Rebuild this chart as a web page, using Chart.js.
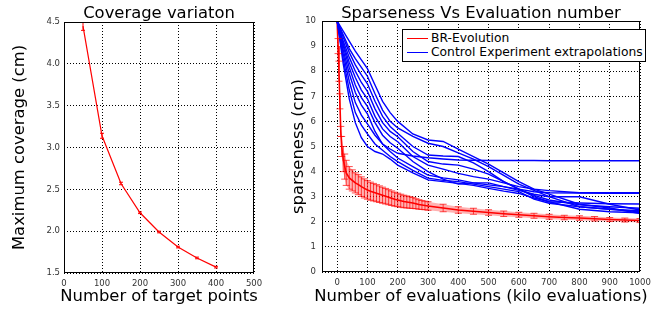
<!DOCTYPE html>
<html>
<head>
<meta charset="utf-8">
<script src="https://cdn.jsdelivr.net/npm/chart.js@4.4.1/dist/chart.umd.min.js"></script>
<style>
  html, body { margin: 0; padding: 0; background: #fff; }
  #wrap { position: relative; width: 663px; height: 310px; overflow: hidden; }
  canvas { position: absolute; top: 0; }
  #left { left: 0; }
  #right { left: 275px; }
  #legend {
    position: absolute; left: 402px; top: 29px; width: 242px; height: 31px;
    border: 1px solid #000; background: #fff;
    font: 12.3px 'DejaVu Sans', sans-serif; color: #000;
  }
  #legend .row { position: absolute; left: 4px; height: 14px; line-height: 14px; white-space: nowrap; }
  #legend .sw { display: inline-block; width: 21px; height: 1.5px; vertical-align: middle; margin-right: 3px; }
</style>
</head>
<body>
<div id="wrap">
  <canvas id="left" width="275" height="310"></canvas>
  <canvas id="right" width="388" height="310"></canvas>
  <div id="legend">
    <div class="row" style="top:1px"><span class="sw" style="background:#ff0000"></span>BR-Evolution</div>
    <div class="row" style="top:15px"><span class="sw" style="background:#0000ff"></span>Control Experiment extrapolations</div>
  </div>
</div>
<script>
// --- left: coverage ---
const targetPoints = [50, 100, 150, 200, 250, 300, 350, 400];
const maxCoverage = [4.45, 3.14, 2.57, 2.22, 1.99, 1.81, 1.68, 1.57];
const coverageErr = [0.05, 0.03, 0.015, 0.01, 0.01, 0.01, 0.01, 0.01];

// --- right: sparseness ---
const evalX = [0, 3, 6, 9, 12, 15, 20, 25, 30,
  40, 50, 60, 70, 80, 90, 100, 110, 120, 130, 140, 150, 160, 170, 180, 190, 200,
  210, 220, 230, 240, 250, 260, 270, 280, 290, 300,
  350, 400, 450, 500, 550, 600, 650, 700, 750, 800, 850, 900, 950, 1000];
const brMean = [10, 9.0, 8.0, 6.8, 5.6, 5.0, 4.5, 4.2, 3.95,
  3.75, 3.65, 3.55, 3.48, 3.4, 3.33, 3.27, 3.22, 3.18, 3.14, 3.1, 3.06, 3.02, 2.98, 2.94, 2.9, 2.87,
  2.84, 2.81, 2.79, 2.77, 2.75, 2.72, 2.69, 2.67, 2.65, 2.63,
  2.55, 2.47, 2.42, 2.37, 2.32, 2.28, 2.24, 2.2, 2.17, 2.15, 2.12, 2.09, 2.07, 2.05];
const brErr = [0, 0.3, 0.4, 0.3, 0.2, 0.4, 0.5, 0.5, 0.5,
  0.45, 0.42, 0.4, 0.4, 0.39, 0.38, 0.37, 0.36, 0.35, 0.34, 0.33, 0.32, 0.31, 0.3, 0.29, 0.28, 0.27,
  0.26, 0.25, 0.24, 0.23, 0.22, 0.2, 0.19, 0.18, 0.17, 0.17,
  0.15, 0.13, 0.12, 0.11, 0.11, 0.1, 0.1, 0.1, 0.09, 0.09, 0.09, 0.08, 0.08, 0.08];

const ctrlX = [0, 20, 40, 60, 80, 100, 125, 150, 175, 200, 250, 300, 350, 400, 450, 500, 550, 600, 650, 700, 800, 900, 1000];
const ctrl1 = [10, 8.3, 6.9, 5.95, 5.35, 5.0, 4.8, 4.7, 4.5, 4.26, 3.95, 3.67, 3.6, 3.53, 3.45, 3.33, 3.22, 3.13, 2.95, 2.8, 2.5, 2.4, 2.36];
const ctrl2 = [10, 8.5, 7.25, 6.35, 5.85, 5.5, 5.1, 4.85, 4.6, 4.4, 4.05, 3.74, 3.65, 3.6, 3.5, 3.4, 3.3, 3.2, 2.9, 2.74, 2.6, 2.5, 2.4];
const ctrl3 = [10, 8.7, 7.6, 6.75, 6.25, 5.9, 5.45, 5.1, 4.9, 4.73, 4.62, 4.55, 4.5, 4.46, 4.45, 4.44, 4.44, 4.44, 4.44, 4.43, 4.43, 4.43, 4.43];
const ctrl4 = [10, 8.85, 7.9, 7.15, 6.65, 6.3, 5.6, 5.1, 4.8, 4.54, 4.2, 3.86, 3.75, 3.67, 3.55, 3.47, 3.4, 3.3, 3.05, 2.87, 2.68, 2.6, 2.54];
const ctrl5 = [10, 9.0, 8.15, 7.45, 6.95, 6.6, 5.95, 5.45, 5.15, 4.93, 4.4, 4.0, 3.7, 3.5, 3.55, 3.55, 3.4, 3.25, 3.1, 3.0, 3.0, 2.7, 2.47];
const ctrl6 = [10, 9.1, 8.35, 7.75, 7.25, 6.9, 6.2, 5.7, 5.4, 5.19, 4.6, 4.26, 4.1, 3.93, 3.8, 3.7, 3.55, 3.4, 3.3, 3.24, 3.16, 3.16, 3.16];
const ctrl7 = [10, 9.2, 8.55, 8.0, 7.55, 7.2, 6.5, 5.95, 5.6, 5.39, 4.8, 4.4, 4.3, 4.26, 4.1, 3.9, 3.6, 3.3, 3.0, 2.8, 2.75, 2.72, 2.71];
const ctrl8 = [10, 9.35, 8.75, 8.25, 7.85, 7.5, 6.8, 6.2, 5.8, 5.53, 5.0, 4.66, 4.62, 4.6, 4.35, 4.0, 3.6, 3.3, 3.2, 3.16, 3.15, 3.14, 3.14];
const ctrl9 = [10, 9.45, 8.9, 8.5, 8.15, 7.8, 7.1, 6.45, 6.0, 5.74, 5.4, 5.13, 5.0, 4.75, 4.5, 4.2, 3.85, 3.5, 3.25, 3.0, 2.6, 2.5, 2.44];
const ctrl10 = [10, 9.6, 9.2, 8.8, 8.45, 8.1, 7.45, 6.8, 6.35, 6.0, 5.5, 5.26, 5.2, 4.9, 4.6, 4.3, 3.95, 3.6, 3.3, 3.1, 2.7, 2.55, 2.33];
const ctrlRuns = [ctrl1, ctrl2, ctrl3, ctrl4, ctrl5, ctrl6, ctrl7, ctrl8, ctrl9, ctrl10];
const evalTicks = [0, 100, 200, 300, 400, 500, 600, 700, 800, 900, 1000];

const FONT = "'DejaVu Sans', sans-serif";
const toXY = (xs, ys) => xs.map((x, i) => ({ x: x, y: ys[i] }));

// frame, plot title and x-axis title (the axis title of chart.js gets squeezed to the plot width)
const framePlugin = {
    id: 'frame',
    afterDraw(chart, args, opts) {
        const { ctx, chartArea: a } = chart;
        ctx.save();
        ctx.strokeStyle = '#000';
        ctx.lineWidth = 1;
        ctx.strokeRect(Math.round(a.left) + 0.5, Math.round(a.top) + 0.5,
            Math.round(a.right - a.left) - 1, Math.round(a.bottom - a.top) - 1);
        ctx.fillStyle = '#000';
        ctx.font = '16.4px ' + FONT;
        ctx.textAlign = 'center';
        ctx.textBaseline = 'alphabetic';
        const cx = (a.left + a.right) / 2;
        ctx.fillText(opts.title, cx, 17.5);
        ctx.fillText(opts.xTitle, cx, 300.5);
        ctx.restore();
    }
};

// vertical error bars with caps
const errorBarPlugin = {
    id: 'errorBars',
    afterDatasetsDraw(chart) {
        const { ctx, chartArea: a, scales: { x, y } } = chart;
        ctx.save();
        ctx.beginPath();
        ctx.rect(a.left, a.top, a.right - a.left, a.bottom - a.top);
        ctx.clip();
        chart.data.datasets.forEach(ds => {
            if (!ds.errors) return;
            ctx.strokeStyle = ds.errorColor || ds.borderColor;
            ctx.lineWidth = 1;
            ds.data.forEach((p, i) => {
                const e = ds.errors[i];
                if (!e) return;
                const px = x.getPixelForValue(p.x);
                const top = y.getPixelForValue(p.y + e);
                const bot = y.getPixelForValue(p.y - e);
                const w = ds.capWidth;
                ctx.beginPath();
                ctx.moveTo(px, top); ctx.lineTo(px, bot);
                ctx.moveTo(px - w, top); ctx.lineTo(px + w, top);
                ctx.moveTo(px - w, bot); ctx.lineTo(px + w, bot);
                ctx.stroke();
            });
        });
        ctx.restore();
    }
};

function axis(extra) {
    const base = {
        type: 'linear',
        grid: { color: '#000', lineWidth: 1, drawTicks: false },
        border: { display: false, dash: [1, 2] },
        ticks: { color: '#333', font: { family: FONT, size: 8.5 } },
        title: { display: false, color: '#000', font: { family: FONT, size: 16.4 } }
    };
    return Object.assign(base, extra, {
        ticks: Object.assign(base.ticks, extra.ticks || {}),
        title: Object.assign(base.title, extra.title || {})
    });
}

new Chart(document.getElementById('left'), {
    type: 'line',
    data: {
        datasets: [{
            data: toXY(targetPoints, maxCoverage),
            errors: coverageErr,
            capWidth: 2,
            borderColor: '#ff0000',
            borderWidth: 1.2,
            pointRadius: 0,
            tension: 0
        }]
    },
    options: {
        responsive: false,
        animation: false,
        events: [],
        layout: { padding: { top: 22, right: 21, left: 0, bottom: 0 } },
        plugins: {
            legend: { display: false }, tooltip: { enabled: false },
            frame: { title: 'Coverage variaton', xTitle: 'Number of target points' }
        },
        scales: {
            x: axis({
                min: 0, max: 500,
                ticks: { stepSize: 100, padding: 6 },
                afterFit: s => { s.height = 37; }
            }),
            y: axis({
                min: 1.5, max: 4.5,
                ticks: { stepSize: 0.5, padding: 4, callback: v => v.toFixed(1) },
                title: { display: true, text: 'Maximum coverage (cm)', padding: { top: 10, bottom: 0 } },
                afterFit: s => { s.width = 64; }
            })
        }
    },
    plugins: [framePlugin, errorBarPlugin]
});

const ctrlSets = ctrlRuns.map(run => ({
    data: toXY(ctrlX, run),
    borderColor: '#0000ff',
    borderWidth: 1.4,
    pointRadius: 0,
    tension: 0
}));

new Chart(document.getElementById('right'), {
    type: 'line',
    data: {
        datasets: ctrlSets.concat([
            {
                data: toXY(evalX, brMean.map((v, i) => v + brErr[i])),
                borderWidth: 0, borderColor: 'rgba(0,0,0,0)', pointRadius: 0, fill: false, tension: 0
            },
            {
                data: toXY(evalX, brMean.map((v, i) => v - brErr[i])),
                borderWidth: 0, borderColor: 'rgba(0,0,0,0)', pointRadius: 0, tension: 0,
                fill: '-1', backgroundColor: 'rgba(255,0,0,0.3)'
            },
            {
                data: toXY(evalX, brMean),
                errors: brErr,
                capWidth: 3.5,
                errorColor: 'rgba(255,0,0,0.7)',
                borderColor: '#ff0000',
                borderWidth: 1.6,
                pointRadius: 0,
                tension: 0
            }
        ])
    },
    options: {
        responsive: false,
        animation: false,
        events: [],
        layout: { padding: { top: 21, right: 23, left: 0, bottom: 0 } },
        plugins: {
            legend: { display: false }, tooltip: { enabled: false },
            frame: { title: 'Sparseness Vs Evaluation number', xTitle: 'Number of evaluations (kilo evaluations)' }
        },
        scales: {
            x: axis({
                min: -50, max: 1000,
                ticks: { padding: 6, callback: v => String(v) },
                afterBuildTicks: s => { s.ticks = evalTicks.map(v => ({ value: v })); },
                afterFit: s => { s.height = 38; }
            }),
            y: axis({
                min: 0, max: 10,
                ticks: { stepSize: 1, padding: 6 },
                title: { display: true, text: 'sparseness (cm)', padding: { top: 14, bottom: 0 } },
                afterFit: s => { s.width = 47; }
            })
        }
    },
    plugins: [framePlugin, errorBarPlugin]
});
</script>
</body>
</html>
